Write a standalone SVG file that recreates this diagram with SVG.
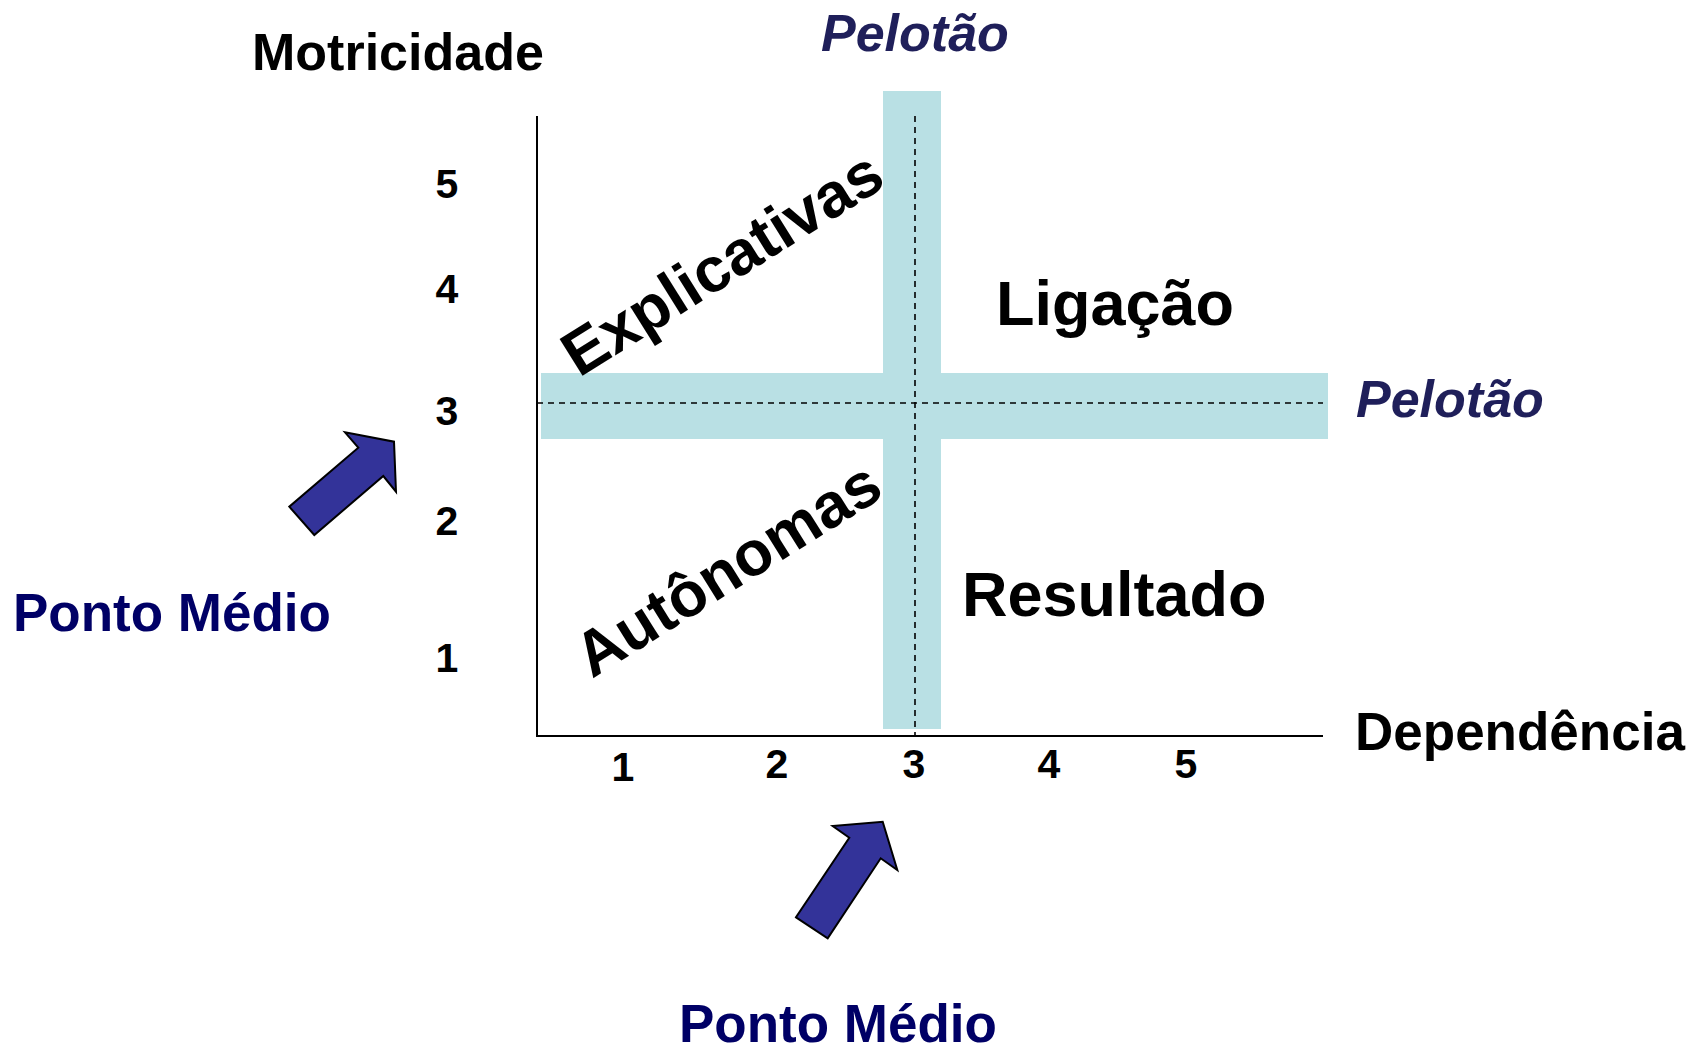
<svg xmlns="http://www.w3.org/2000/svg" width="1700" height="1050" viewBox="0 0 1700 1050">
<style>
text{font-family:"Liberation Sans",Arial,sans-serif;font-weight:bold}
.tick{font-size:41px;fill:#000;text-anchor:middle}
.axis{stroke:#000;stroke-width:2;fill:none}
.dash{stroke:#000;stroke-width:1.6;stroke-dasharray:6 5;fill:none}
.band{fill:#b9e0e4}
.pel{font-size:52px;font-style:italic;fill:#1f1f5a}
.pm{font-size:53px;fill:#000066}
.quad{font-size:63px;fill:#000}
.arrow{fill:#333399;stroke:#000;stroke-width:2;stroke-linejoin:miter}
</style>
<rect width="1700" height="1050" fill="#fff"/>
<g id="bands">
<rect class="band" x="883" y="91" width="58" height="638"/>
<rect class="band" x="541" y="373" width="787" height="66"/>
</g>
<g id="connectors">
<line class="axis" x1="537" y1="116" x2="537" y2="736"/>
<line class="axis" x1="536" y1="736" x2="1323" y2="736"/>
<line class="dash" x1="537" y1="403" x2="1323" y2="403"/>
<line class="dash" x1="915" y1="116" x2="915" y2="736"/>
<polygon class="arrow" points="289.3,506.7 314.3,535 383.3,476 396,491.7 394,441.7 345,432.3 358.3,447.7"/>
<polygon class="arrow" points="796,917.3 827.7,938.3 880.7,858.3 897.3,870 882.7,821.7 832.7,826 849.3,837.7"/>
</g>
<g id="yticks">
<text class="tick" x="447" y="198">5</text>
<text class="tick" x="447" y="303">4</text>
<text class="tick" x="447" y="425">3</text>
<text class="tick" x="447" y="535">2</text>
<text class="tick" x="447" y="672">1</text>
</g>
<g id="xticks">
<text class="tick" x="623" y="781">1</text>
<text class="tick" x="777" y="778">2</text>
<text class="tick" x="914" y="778">3</text>
<text class="tick" x="1049" y="778">4</text>
<text class="tick" x="1186" y="778">5</text>
</g>
<g id="labels">
<text x="252" y="70" font-size="52" fill="#000">Motricidade</text>
<text x="1355" y="750" font-size="53" fill="#000">Dependência</text>
<text class="pel" x="821" y="51">Pelotão</text>
<text class="pel" x="1356" y="417">Pelotão</text>
<text class="pm" x="13" y="631">Ponto Médio</text>
<text class="pm" x="679" y="1042">Ponto Médio</text>
</g>
<g id="quadrants">
<text class="quad" x="996" y="325">Ligação</text>
<text class="quad" x="962" y="616">Resultado</text>
<text class="quad" transform="translate(579,378) rotate(-32)">Explicativas</text>
<text class="quad" transform="translate(592,679) rotate(-32)">Autônomas</text>
</g>
</svg>
